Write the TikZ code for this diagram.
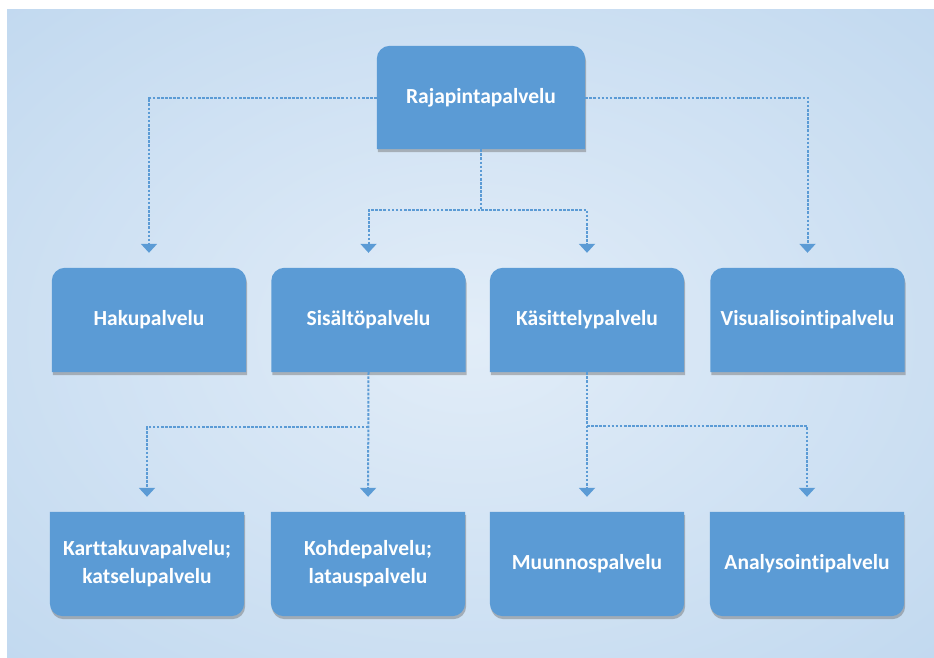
\documentclass[tikz,border=0pt]{standalone}
\usepackage{fontspec}
\setmainfont{Carlito}[Ligatures=NoCommon]
\usetikzlibrary{arrows.meta,backgrounds,calc}

\definecolor{boxblue}{RGB}{91,155,213}
\definecolor{bgin}{RGB}{226,237,248}
\definecolor{bgout}{RGB}{162,197,231}
\definecolor{shadowgray}{RGB}{110,110,110}

\pgfdeclareradialshading{panelshade}{\pgfpoint{0bp}{0bp}}{%
  color(0bp)=(bgin); color(71bp)=(bgout)}

\tikzset{
  svc/.style={minimum width=194pt, minimum height=104pt, inner sep=0pt,
    text=white, align=center, font=\bfseries\fontsize{21.5}{28}\selectfont},
  conn/.style={draw=boxblue, line width=2pt, dash pattern=on 2.6pt off 1.5pt,
    -{Triangle[width=16pt,length=9pt]}, shorten >=15pt},
  boxshadow/.style={fill=shadowgray, opacity=.45,
    transform canvas={xshift=1pt,yshift=-3pt}},
}

% rounded top corners
\newcommand\topround[2]{%
  \fill[#2] (#1.south west) -- ([yshift=-13pt]#1.north west)
    arc[start angle=180,end angle=90,radius=13pt]
    -- ([xshift=-13pt]#1.north east)
    arc[start angle=90,end angle=0,radius=13pt]
    -- (#1.south east) -- cycle;}
% rounded bottom corners
\newcommand\bottomround[2]{%
  \fill[#2] (#1.north west) -- ([yshift=13pt]#1.south west)
    arc[start angle=180,end angle=270,radius=13pt]
    -- ([xshift=-13pt]#1.south east)
    arc[start angle=270,end angle=360,radius=13pt]
    -- (#1.north east) -- cycle;}

\begin{document}
\begin{tikzpicture}[x=1pt,y=-1pt]
\useasboundingbox (0,0) rectangle (934,657);

\begin{scope}[on background layer]
  \shade[shading=panelshade] (7,9) rectangle (934,657);
\end{scope}

% service boxes
\node[svc, minimum width=208pt, minimum height=103pt] (r) at (481,97.5) {Rajapintapalvelu};

\node[svc] (h) at (149,320) {Hakupalvelu};
\node[svc] (s) at (368.5,320) {Sisältöpalvelu};
\node[svc] (k) at (587,320) {Käsittelypalvelu};
\node[svc] (v) at (807.5,320) {Visualisointipalvelu};

\node[svc] (kk) at (147,564) {Karttakuvapalvelu;\\katselupalvelu};
\node[svc] (ko) at (368,564) {Kohdepalvelu;\\latauspalvelu};
\node[svc] (mu) at (587,564) {Muunnospalvelu};
\node[svc] (an) at (807,564) {Analysointipalvelu};

\begin{scope}[on background layer]
  \foreach \n in {r,h,s,k,v}{\topround{\n}{boxshadow}}
  \foreach \n in {kk,ko,mu,an}{\bottomround{\n}{boxshadow}}
  \foreach \n in {r,h,s,k,v}{\topround{\n}{boxblue}}
  \foreach \n in {kk,ko,mu,an}{\bottomround{\n}{boxblue}}
\end{scope}

% connectors
\coordinate (j1) at (481,210);
\coordinate (j2) at (368.5,427);
\coordinate (j3) at (587,426);

\draw[conn] (r.west) -| (h.north);
\draw[conn] (r.east) -| (v.north);
\draw[conn] (r.south) -- (j1) -| (s.north);
\draw[conn] (j1) -| (k.north);

\draw[conn] (s.south) -- (ko.north);
\draw[conn] (j2) -| (kk.north);
\draw[conn] (k.south) -- (mu.north);
\draw[conn] (j3) -| (an.north);
\end{tikzpicture}
\end{document}
